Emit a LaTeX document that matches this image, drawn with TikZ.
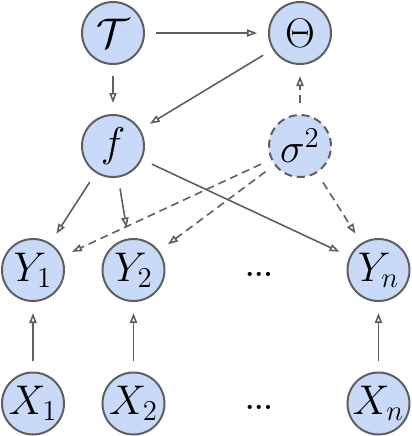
\documentclass[tikz,border=0pt]{standalone}
\usepackage{amsmath,amssymb}
\usetikzlibrary{arrows.meta}

\definecolor{nodeblue}{RGB}{201,218,248}
\definecolor{edgegray}{RGB}{95,95,95}

\begin{document}
\begin{tikzpicture}[x=0.5pt,y=-0.5pt,
        var/.style={circle,draw=edgegray,line width=1pt,fill=nodeblue,
                    minimum size=31pt,inner sep=0pt,font=\huge},
        edge/.style={draw=edgegray,line width=0.8pt,
                     -{Triangle[open,length=5pt,width=3.6pt]},
                     shorten >=5.5pt,shorten <=5.5pt},
        dashededge/.style={edge,dash pattern=on 4pt off 2.5pt}]
        % fix the page to the size of the reference
        \useasboundingbox (0,0) rectangle (412,436);

        % top level: hyperparameters
        \node[var] (tau) at (113,33) {$\mathcal{T}$};
        \node[var] (theta) at (300,33) {$\Theta$};

        % function and noise
        \node[var] (f) at (113,146) {$f$};
        \node[var,dash pattern=on 4pt off 2.5pt] (sigma) at (300,146) {$\sigma^2$};

        % outputs
        \node[var] (y1) at (33,270) {$Y_1$};
        \node[var] (y2) at (133.5,270) {$Y_2$};
        \node[font=\Large\bfseries] (ydots) at (259,274) {...};
        \node[var] (yn) at (378.5,270) {$Y_n$};

        % inputs
        \node[var] (x1) at (33,403.5) {$X_1$};
        \node[var] (x2) at (133.5,403.5) {$X_2$};
        \node[font=\Large\bfseries] (xdots) at (259,407) {...};
        \node[var] (xn) at (378.5,403.5) {$X_n$};

        % solid dependencies
        \draw[edge] (tau) -- (theta);
        \draw[edge] (tau) -- (f);
        \draw[edge] (theta) -- (f);
        \draw[edge] (f) -- (y1);
        \draw[edge] (f) -- (y2);
        \draw[edge] (f) -- (yn);
        \draw[edge] (x1) -- (y1);
        \draw[edge] (x2) -- (y2);
        \draw[edge] (xn) -- (yn);

        % dashed dependencies of the noise
        \draw[dashededge] (sigma) -- (theta);
        \draw[dashededge] (sigma) -- (y1);
        \draw[dashededge] (sigma) -- (y2);
        \draw[dashededge] (sigma) -- (yn);
\end{tikzpicture}
\end{document}
